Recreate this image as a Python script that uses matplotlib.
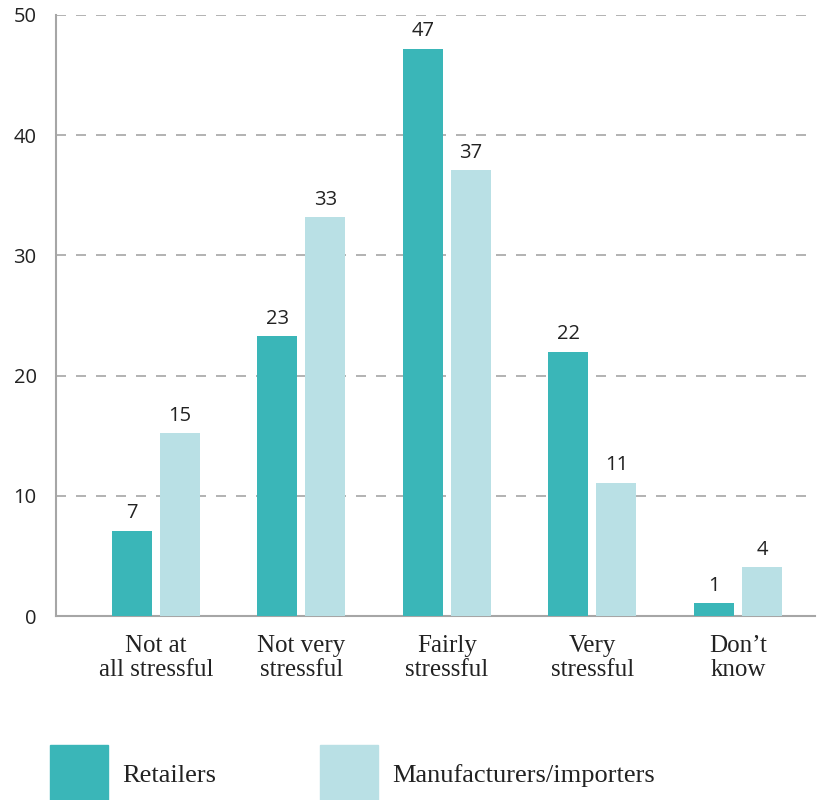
import numpy as np
import matplotlib.pyplot as plt
from matplotlib.patches import Rectangle

categories = ['Not at\nall stressful', 'Not very\nstressful', 'Fairly\nstressful',
              'Very\nstressful', 'Don\u2019t\nknow']
retailers = [7.1, 23.3, 47.2, 22.0, 1.1]
manufacturers = [15.2, 33.2, 37.1, 11.1, 4.1]
retailer_labels = ['7', '23', '47', '22', '1']
manufacturer_labels = ['15', '33', '37', '11', '4']
series_names = ['Retailers', 'Manufacturers/importers']

TEAL = '#3ab6b8'
LIGHT = '#b9e0e5'
GRID = '#a6a6a6'

fig = plt.figure(figsize=(8.22, 8.00), dpi=100)
ax = fig.add_axes([56 / 822, 184 / 800, (815 - 56) / 822, (785 - 184) / 800])

x = np.arange(len(categories))
w = 0.275
off = 0.165
ax.bar(x - off, retailers, w, color=TEAL, zorder=3)
ax.bar(x + off, manufacturers, w, color=LIGHT, zorder=3)

num_font = 'Open Sans'
for xi, v, lab in zip(x, retailers, retailer_labels):
    ax.text(xi - off, v + 0.6, lab, ha='center', va='bottom',
            fontsize=14.5, family=num_font, color='#222222')
for xi, v, lab in zip(x, manufacturers, manufacturer_labels):
    ax.text(xi + off, v + 0.6, lab, ha='center', va='bottom',
            fontsize=14.5, family=num_font, color='#222222')

ax.set_xlim(-0.687, 4.53)
ax.set_ylim(0, 50)
ax.set_yticks([0, 10, 20, 30, 40, 50])
ax.set_yticklabels(['0', '10', '20', '30', '40', '50'], family=num_font, fontsize=14.5,
                   color='#222222')
ax.set_xticks(x)
ax.set_xticklabels(categories, family='Liberation Serif', fontsize=18, linespacing=1.08,
                   color='#222222')
ax.tick_params(axis='both', length=0)
ax.tick_params(axis='x', pad=14)
ax.tick_params(axis='y', pad=14)

ax.yaxis.grid(True, linestyle=(0, (6, 6)), color=GRID, linewidth=1.2, zorder=0)
for s in ['top', 'right']:
    ax.spines[s].set_visible(False)
for s in ['left', 'bottom']:
    ax.spines[s].set_color(GRID)
    ax.spines[s].set_linewidth(1.5)

# legend drawn as figure patches
for (x0, name, col) in [(50, series_names[0], TEAL), (320, series_names[1], LIGHT)]:
    fig.patches.append(Rectangle((x0 / 822, 0 / 800), 58 / 822, 55 / 800,
                                 transform=fig.transFigure, color=col))
    fig.text((x0 + 72) / 822, 24 / 800, name, ha='left', va='center',
             family='Liberation Serif', fontsize=19, color='#222222')

fig.savefig('out.png', dpi=100)
